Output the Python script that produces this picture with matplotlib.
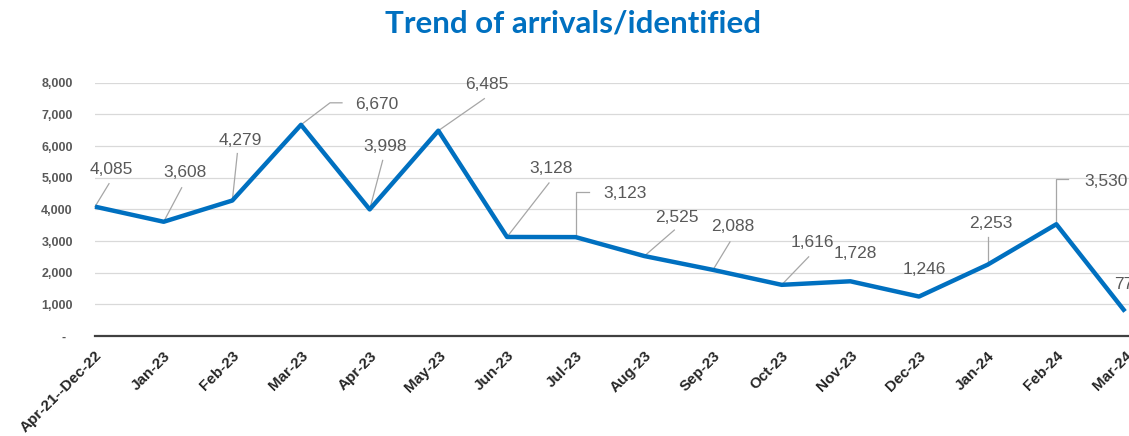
import matplotlib
matplotlib.use("Agg")
import matplotlib.pyplot as plt
from matplotlib.transforms import IdentityTransform, ScaledTranslation
from matplotlib.lines import Line2D

categories = ["Apr-21--Dec-22", "Jan-23", "Feb-23", "Mar-23", "Apr-23", "May-23",
              "Jun-23", "Jul-23", "Aug-23", "Sep-23", "Oct-23", "Nov-23",
              "Dec-23", "Jan-24", "Feb-24", "Mar-24"]
arrivals = [4085, 3608, 4279, 6670, 3998, 6485, 3128, 3123, 2525, 2088,
            1616, 1728, 1246, 2253, 3530, 775]
y_ticks = [0, 1000, 2000, 3000, 4000, 5000, 6000, 7000, 8000]
y_tick_labels = ["-  ", "1,000", "2,000", "3,000", "4,000", "5,000", "6,000", "7,000", "8,000"]

# label offsets (pixels) and leader-line waypoints (pixels, from the point)
label_offsets = [(16, 37), (21, 49), (8, 60), (76, 20), (15, 63), (48, 46),
                 (44, 68), (49, 44), (33, 39), (20, 43), (31, 42), (5, 28),
                 (5, 27), (3, 41), (50, 43), (4, 27)]
leaders = [[(0, 0), (14, 23)], [(0, 0), (18, 34)], [(0, 0), (5, 47)],
           [(0, 0), (29, 22), (41, 22)], [(0, 0), (13, 49)], [(0, 0), (46, 32)],
           [(0, 0), (42, 54)], [(0, 0), (0, 45), (13, 45)], [(0, 0), (30, 26)],
           [(0, 0), (17, 28)], [(0, 0), (27, 28)], None, None,
           [(0, 0), (0, 28)], [(0, 0), (0, 45), (12, 45)], None]

W, H = 1129, 436
fig = plt.figure(figsize=(W / 100, H / 100), dpi=100)
ax_left, ax_right = 95, 1129
ax_bottom, ax_top = 336, 82.7
ax = fig.add_axes([ax_left / W, 1 - ax_bottom / H,
                   (ax_right - ax_left) / W, (ax_bottom - ax_top) / H])

n = len(categories)
xs = list(range(n))
px_per_unit = (1125 - 95) / (n - 1)
ax.set_xlim(0, (ax_right - ax_left) / px_per_unit)
ax.set_ylim(0, 8000)

ax.plot(xs, arrivals, color="#0070C0", lw=3.2, solid_joinstyle="round",
        solid_capstyle="butt", zorder=3, clip_on=False)

ax.set_yticks(y_ticks)
ax.set_yticklabels(y_tick_labels)
ax.set_xticks(xs)
ax.set_xticklabels(categories, rotation=45, ha="right", rotation_mode="anchor")
ax.tick_params(axis="both", length=0)
ax.tick_params(axis="y", pad=16)
ax.tick_params(axis="x", pad=9)
for t in ax.get_yticklabels():
    t.set_fontfamily("Liberation Sans")
    t.set_fontweight("bold")
    t.set_fontsize(9)
    t.set_color("#595959")
for t in ax.get_xticklabels():
    t.set_fontfamily("Liberation Sans")
    t.set_fontweight("bold")
    t.set_fontsize(11)
    t.set_color("#262626")

ax.grid(axis="y", color="#D9D9D9", lw=0.9, zorder=0)
ax.set_axisbelow(True)
for s in ["top", "right", "left"]:
    ax.spines[s].set_visible(False)
ax.spines["bottom"].set_color("#404040")
ax.spines["bottom"].set_linewidth(1.6)
ax.spines["bottom"].set_zorder(4)

for i, v in enumerate(arrivals):
    dx, dy = label_offsets[i]
    ax.annotate(f"{v:,}", xy=(i, v), xytext=(dx, dy), textcoords="offset pixels",
                ha="center", va="center", fontsize=12.5, color="#595959",
                family="Liberation Sans", annotation_clip=False, zorder=5)
    pts = leaders[i]
    if pts:
        tr = IdentityTransform() + ScaledTranslation(i, v, ax.transData)
        ln = Line2D([p[0] for p in pts], [p[1] for p in pts], transform=tr,
                    color="#A6A6A6", lw=0.9, clip_on=False, zorder=2)
        ax.add_line(ln)

fig.text(573 / W, 1 - 24 / H, "Trend of arrivals/identified", ha="center",
         va="center", fontsize=22.5, fontweight="bold", color="#0070C0",
         family="Lato")

fig.savefig("out.png", dpi=100)
